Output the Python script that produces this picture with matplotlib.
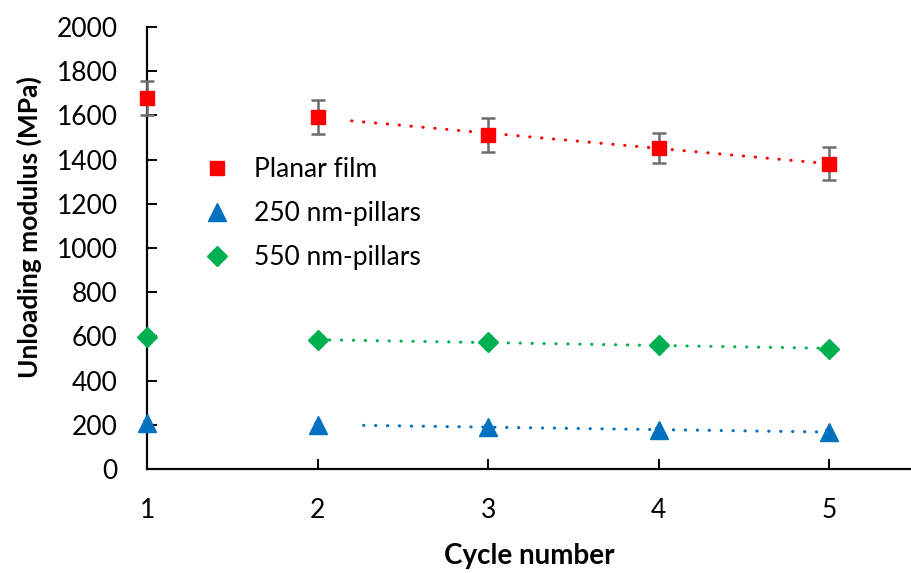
import matplotlib
matplotlib.use("Agg")
import matplotlib.pyplot as plt
import numpy as np

plt.rcParams['font.family'] = ['Lato', 'DejaVu Sans']

cycles = [1, 2, 3, 4, 5]
planar = [1680, 1593, 1513, 1453, 1382]
planar_err = [77, 75, 77, 69, 75]
p250 = [207, 200, 190, 178, 167]
p550 = [599, 584, 573, 560, 545]
small_err = [8, 8, 8, 8, 8]

fig = plt.figure(figsize=(9.11, 5.73), dpi=100)
ax = fig.add_axes([0.1614, 0.1815, 0.8386, 0.7714])

red = '#FF0000'
blue = '#0070C0'
green = '#00B050'
grey = '#6d6d6d'

# trend lines (cycles 2-5)
xs = np.array(cycles[1:], dtype=float)
for vals, col, start in [(planar, red, 2.2), (p550, green, 2.0), (p250, blue, 2.27)]:
    k, b = np.polyfit(xs, np.array(vals[1:], dtype=float), 1)
    t = np.array([start, 5.0])
    ax.plot(t, k * t + b, color=col, lw=2.2, linestyle=(0, (0.1, 3.8)),
            dash_capstyle='round', solid_capstyle='round', zorder=2)

ax.errorbar(cycles, planar, yerr=planar_err, fmt='none', ecolor=grey, elinewidth=1.8,
            capsize=5, capthick=1.8, zorder=3, clip_on=False)
ax.errorbar(cycles, p250, yerr=small_err, fmt='none', ecolor=grey, elinewidth=1.2,
            capsize=3, capthick=1.2, zorder=3, clip_on=False)
ax.errorbar(cycles, p550, yerr=small_err, fmt='none', ecolor=grey, elinewidth=1.2,
            capsize=3, capthick=1.2, zorder=3, clip_on=False)

ax.plot(cycles, planar, 's', color=red, ms=10.5, label='Planar film', zorder=4, clip_on=False)
ax.plot(cycles, p250, '^', color=blue, ms=13, label='250 nm-pillars', zorder=4, clip_on=False)
ax.plot(cycles, p550, 'D', color=green, ms=10, label='550 nm-pillars', zorder=4, clip_on=False)

ax.set_xlim(1, 5.48)
ax.set_ylim(0, 2000)
ax.set_xticks(cycles)
ax.set_yticks(np.arange(0, 2001, 200))
for s in ['top', 'right']:
    ax.spines[s].set_visible(False)
for s in ['left', 'bottom']:
    ax.spines[s].set_linewidth(1.6)
    ax.spines[s].set_color('black')
ax.tick_params(axis='both', direction='in', length=7, width=1.4, labelsize=19, colors='black')
ax.tick_params(axis='x', pad=21)
ax.tick_params(axis='y', pad=21)

ax.set_xlabel('Cycle number', fontsize=20, fontweight='bold', labelpad=14)
ax.set_ylabel('Unloading modulus (MPa)', fontsize=19, fontweight='bold')
ax.yaxis.set_label_coords(-0.137, 0.547)

leg = ax.legend(loc='upper left', bbox_to_anchor=(0.054, 0.735), frameon=False, fontsize=19,
                handletextpad=0.8, labelspacing=0.72, borderpad=0, handlelength=1.2)
leg.legend_handles[0].set_markersize(10)
leg.legend_handles[1].set_markersize(13)
leg.legend_handles[2].set_markersize(10)

fig.savefig('out.png', dpi=100)
